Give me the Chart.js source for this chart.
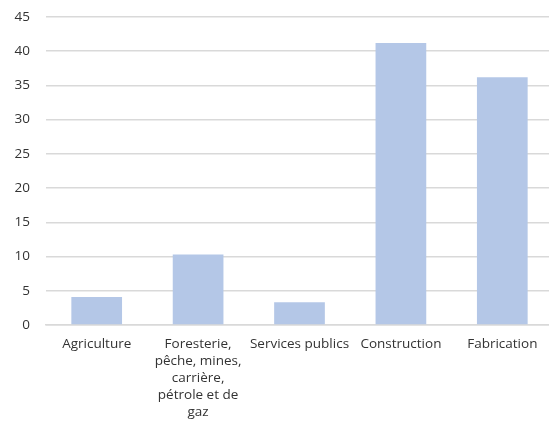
<!DOCTYPE html>
<html>
<head>
<meta charset="utf-8">
<script src="https://cdn.jsdelivr.net/npm/chart.js@4"></script>
<style>
  html, body { margin: 0; padding: 0; background: #ffffff; overflow: hidden; }
  #wrap { position: absolute; left: 0; top: 0; width: 557px; height: 429px; }
</style>
</head>
<body>
<div id="wrap"><canvas id="c"></canvas></div>
<script>
const categories = [
  "Agriculture",
  ["Foresterie,", "pêche, mines,", "carrière,", "pétrole et de", "gaz"],
  "Services publics",
  "Construction",
  "Fabrication"
];
const values = [4.1, 10.3, 3.3, 41.2, 36.2];
const yTicks = [0, 5, 10, 15, 20, 25, 30, 35, 40, 45];

const FONT = { family: "'Open Sans', 'Noto Sans', sans-serif", size: 13.5, lineHeight: 1.26 };
const TEXT = '#333333';
const GRID = '#d9d9d9';

new Chart(document.getElementById('c'), {
  type: 'bar',
  data: {
    labels: categories,
    datasets: [{
      data: values,
      backgroundColor: '#b4c7e7',
      borderWidth: 0,
      barPercentage: 0.5,
      categoryPercentage: 1.0
    }]
  },
  options: {
    responsive: true,
    maintainAspectRatio: false,
    animation: false,
    layout: { padding: { left: 13, right: 4, top: 17, bottom: -3 } },
    plugins: { legend: { display: false }, tooltip: { enabled: false } },
    scales: {
      x: {
        grid: { display: false, drawTicks: false },
        border: { display: true, color: GRID, width: 1.5 },
        ticks: { color: TEXT, font: FONT, padding: 11, maxRotation: 0, autoSkip: false }
      },
      y: {
        min: 0,
        max: 45,
        afterBuildTicks: (axis) => { axis.ticks = yTicks.map(v => ({ value: v })); },
        afterFit: (axis) => { axis.width = 33; axis.paddingTop = 0; },
        grid: { color: GRID, lineWidth: 1.5, drawTicks: false },
        border: { display: false },
        ticks: { color: TEXT, font: FONT, padding: 16 }
      }
    }
  }
});
</script>
</body>
</html>
